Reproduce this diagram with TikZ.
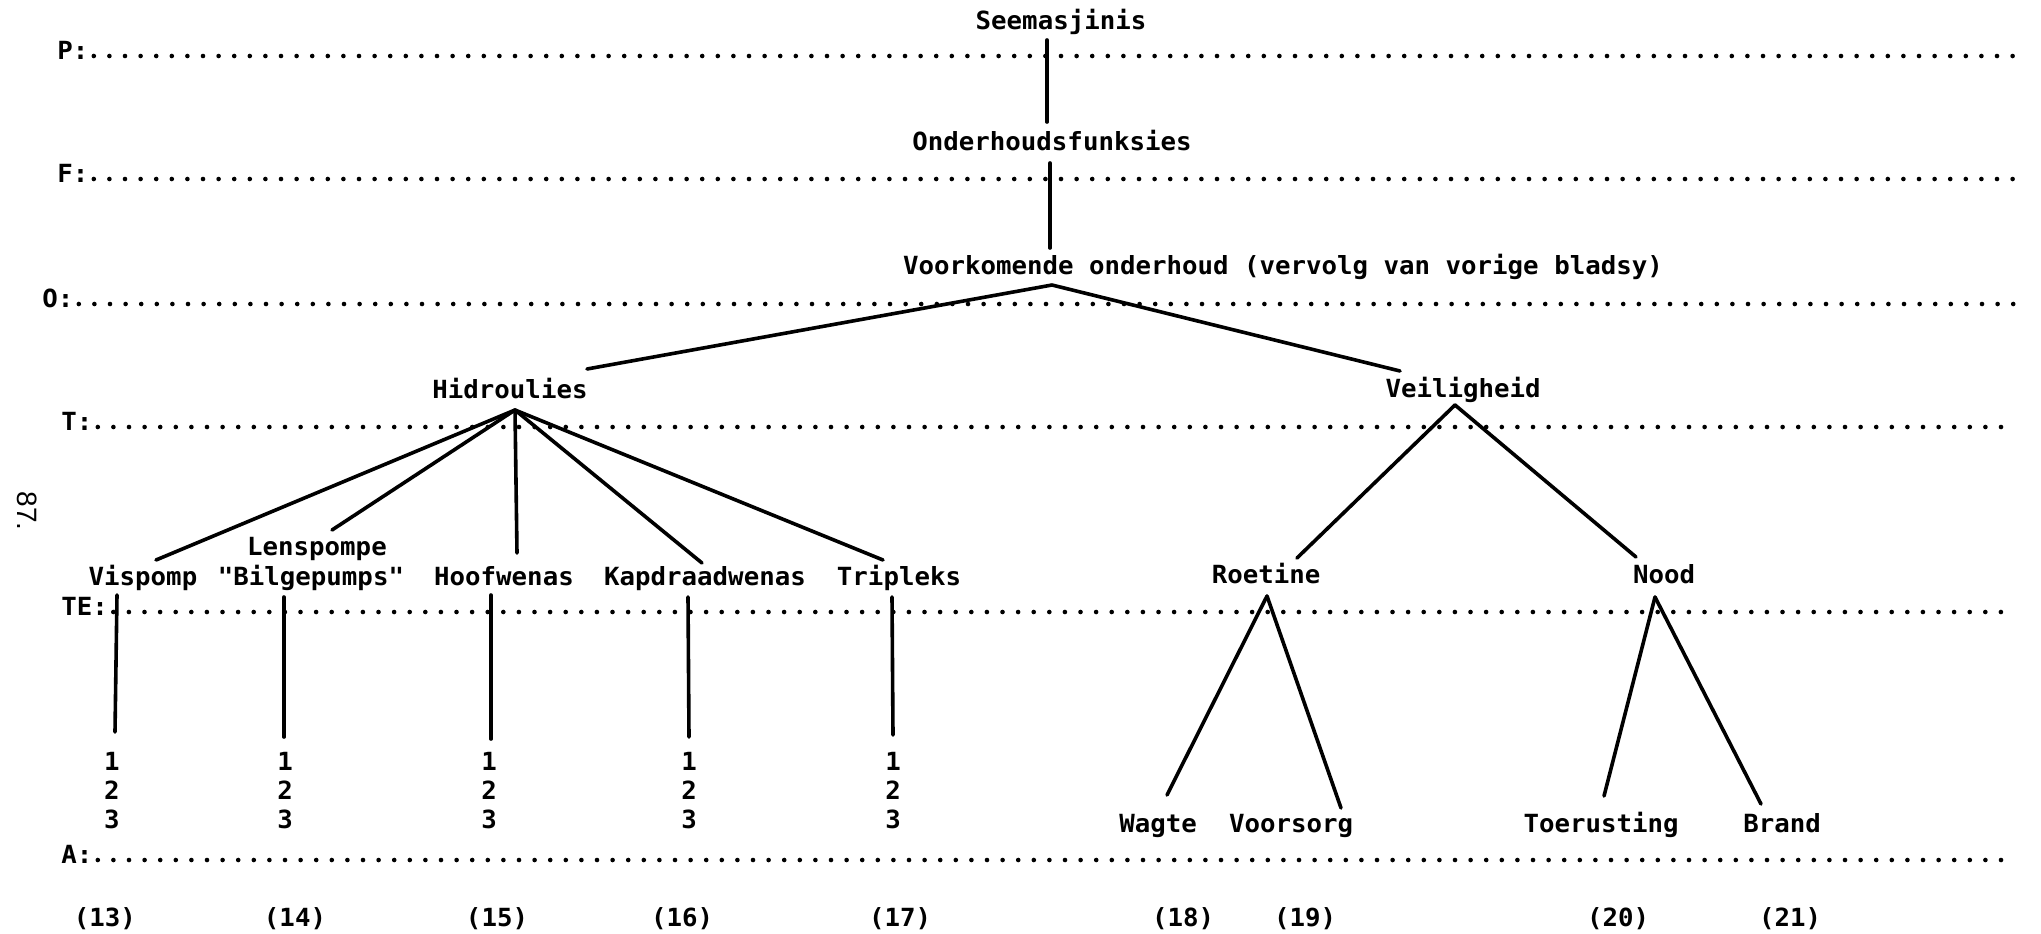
\documentclass[tikz,border=0pt]{standalone}
\usepackage{fontspec}
\newfontfamily\printfont{DejaVu Sans Mono}[FakeStretch=1.03]
\newfontfamily\pagefont{Liberation Sans}
\begin{document}
\begin{tikzpicture}[x=0.5pt,y=-0.5pt,
  txt/.style={font=\printfont\bfseries\fontsize{12.5}{15}\selectfont, inner sep=0pt, anchor=base},
  lvl/.style={txt, anchor=base west},
  rule/.style={line width=2.3pt, line cap=round, dash pattern=on 0pt off 7.8pt},
  link/.style={line width=1.8pt, line cap=round}]

\fill[white] (0,0) rectangle (2041,933);
\useasboundingbox (0,0) rectangle (2041,933);

% level labels and their dotted rules
\node[lvl] (lP)  at (57,59)  {P:};
\node[lvl] (lF)  at (57,182) {F:};
\node[lvl] (lO)  at (42,307) {O:};
\node[lvl] (lT)  at (61,430) {T:};
\node[lvl] (lTE) at (61,615) {TE:};
\node[lvl] (lA)  at (61,863) {A:};
\draw[rule] (lP.base east)  ++(5,-3) -- (2015,56);
\draw[rule] (lF.base east)  ++(5,-3) -- (2015,179);
\draw[rule] (lO.base east)  ++(5,-3) -- (2015,304);
\draw[rule] (lT.base east)  ++(5,-3) -- (2015,427);
\draw[rule] (lTE.base east) ++(5,-3) -- (2015,612);
\draw[rule] (lA.base east)  ++(5,-3) -- (2015,860);

% page number
\node[font=\pagefont\fontsize{14}{16}\selectfont, rotate=-90, inner sep=0pt] (pg) at (27,511) {87.};

% tree nodes
\node[txt] (see)   at (1061,29)  {Seemasjinis};
\node[txt] (ond)   at (1052,150) {Onderhoudsfunksies};
\node[txt] (voor)  at (1283,274) {Voorkomende onderhoud (vervolg van vorige bladsy)};
\node[txt] (hid)   at (510,398)  {Hidroulies};
\node[txt] (vei)   at (1463,397) {Veiligheid};
\node[txt] (lens)  at (317,555)  {Lenspompe};
\node[txt] (visp)  at (143,585)  {Vispomp};
\node[txt] (bilge) at (311,585)  {"Bilgepumps"};
\node[txt] (hoof)  at (504,585)  {Hoofwenas};
\node[txt] (kap)   at (705,585)  {Kapdraadwenas};
\node[txt] (trip)  at (899,585)  {Tripleks};
\node[txt] (roe)   at (1266,583) {Roetine};
\node[txt] (nood)  at (1664,583) {Nood};
\node[txt] (wag)   at (1158,832) {Wagte};
\node[txt] (vrs)   at (1291,832) {Voorsorg};
\node[txt] (toe)   at (1601,832) {Toerusting};
\node[txt] (brand) at (1782,832) {Brand};

% numbered activity columns
\foreach \x/\c in {112/a,285/b,489/c,689/d,893/e}{
  \node[txt] (num\c1) at (\x,770) {1};
  \node[txt] (num\c2) at (\x,799) {2};
  \node[txt] (num\c3) at (\x,828) {3};
}

% references along the bottom
\foreach \x/\t in {105/13,295/14,497/15,682/16,900/17,1183/18,1305/19,1618/20,1790/21}
  \node[txt] (ref\t) at (\x,926) {(\t)};

% connectors
\draw[link] ([shift={(-14,11)}]see.base) -- ([shift={(-5,-28)}]ond.base);
\draw[link] ([shift={(-2,13)}]ond.base) -- ([shift={(-233,-26)}]voor.base);
\draw[link] ([shift={(-231,11)}]voor.base) -- ([shift={(77,-29)}]hid.base);
\draw[link] ([shift={(-231,11)}]voor.base) -- ([shift={(-63,-26)}]vei.base);

\draw[link] ([shift={(5,12)}]hid.base) -- ([shift={(13,-25)}]visp.base);
\draw[link] ([shift={(5,12)}]hid.base) -- ([shift={(15,-25)}]lens.base);
\draw[link] ([shift={(5,12)}]hid.base) -- ([shift={(13,-32)}]hoof.base);
\draw[link] ([shift={(5,12)}]hid.base) -- ([shift={(-3,-22)}]kap.base);
\draw[link] ([shift={(5,12)}]hid.base) -- ([shift={(-16,-25)}]trip.base);

\draw[link] ([shift={(-26,10)}]visp.base)  -- ([shift={(3,-38)}]numa1.base);
\draw[link] ([shift={(-27,12)}]bilge.base) -- ([shift={(-1,-33)}]numb1.base);
\draw[link] ([shift={(-13,10)}]hoof.base)  -- ([shift={(2,-31)}]numc1.base);
\draw[link] ([shift={(-17,12)}]kap.base)   -- ([shift={(0,-33)}]numd1.base);
\draw[link] ([shift={(-7,12)}]trip.base)   -- ([shift={(0,-35)}]nume1.base);

\draw[link] ([shift={(-8,8)}]vei.base) -- ([shift={(31,-25)}]roe.base);
\draw[link] ([shift={(-8,8)}]vei.base) -- ([shift={(-28,-26)}]nood.base);

\draw[link] ([shift={(1,13)}]roe.base) -- ([shift={(9,-37)}]wag.base);
\draw[link] ([shift={(1,13)}]roe.base) -- ([shift={(50,-24)}]vrs.base);
\draw[link] ([shift={(-9,14)}]nood.base) -- ([shift={(3,-36)}]toe.base);
\draw[link] ([shift={(-9,14)}]nood.base) -- ([shift={(-21,-28)}]brand.base);

\end{tikzpicture}
\end{document}
